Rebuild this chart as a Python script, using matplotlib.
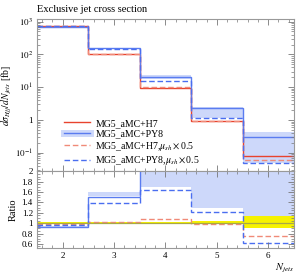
import numpy as np
import matplotlib
matplotlib.use("Agg")
import matplotlib.pyplot as plt
from matplotlib.lines import Line2D
from matplotlib.ticker import FixedLocator, MultipleLocator, LogLocator, FuncFormatter, NullFormatter

plt.rcParams['font.family'] = ['Liberation Serif', 'DejaVu Serif']
plt.rcParams['mathtext.fontset'] = 'stix'

# bin edges in number of jets
edges = [1.5, 2.5, 3.5, 4.5, 5.5, 6.5]

# cross sections [fb]
h7 = np.array([755, 103, 9.7, 0.95, 0.080])
py8 = np.array([705, 155, 21.0, 2.30, 0.30])
h7_half = np.array([750, 105, 10.5, 0.93, 0.060])
py8_half = np.array([735, 143, 15.9, 1.16, 0.049])

# PY8 uncertainty band (main panel)
py8_lo = np.array([690, 150, 18.0, 1.18, 0.050])
py8_hi = np.array([730, 162, 24.0, 2.55, 0.42])

# bands in ratio panel
py8_rlo = np.array([0.91, 1.53, 1.70, 1.29, 1.13])
py8_rhi = np.array([0.95, 1.60, 2.60, 3.00, 5.00])
h7_rlo = np.array([0.985, 0.985, 0.985, 0.98, 0.90])
h7_rhi = np.array([1.015, 1.015, 1.02, 1.04, 1.13])

red = '#e8432e'
red_d = '#f08a78'
blue = '#5a7cf0'
blue_d = '#4a6ef0'
band_blue = '#cdd8fa'
frame = '#999999'

fig = plt.figure(figsize=(3.04, 2.74), dpi=100)
ax = fig.add_axes([0.1217, 0.376, 0.845, 0.555])
rax = fig.add_axes([0.1217, 0.095, 0.845, 0.281], sharex=ax)

# main panel
ax.stairs(py8_hi, edges, baseline=py8_lo, fill=True, color=band_blue, lw=0)
ax.stairs(h7, edges, color=red, lw=1.0, baseline=None)
ax.stairs(py8, edges, color=blue, lw=1.0, baseline=None)
ax.stairs(h7_half, edges, color=red_d, lw=1.0, ls=(0, (4, 2)), baseline=None)
ax.stairs(py8_half, edges, color=blue_d, lw=1.0, ls=(0, (4, 2)), baseline=None)

ax.set_yscale('log')
ax.set_ylim(0.028, 1210)
ax.set_xlim(1.5, 6.5)


def logfmt(v, pos):
    e = int(round(np.log10(v)))
    if e == 0:
        return '1'
    return r'$10^{%d}$' % e


ax.yaxis.set_major_locator(LogLocator(base=10, numticks=10))
ax.yaxis.set_major_formatter(FuncFormatter(logfmt))
ax.yaxis.set_minor_locator(LogLocator(base=10, subs=np.arange(2, 10), numticks=10))
ax.yaxis.set_minor_formatter(NullFormatter())
ax.tick_params(labelbottom=False)
ax.set_ylabel(r'$d\sigma_{Hjj}/dN_{jets}$ [fb]', fontsize=7)
ax.yaxis.set_label_coords(-0.088, 0.5)
ax.set_title('Exclusive jet cross section', fontsize=7.5, loc='left', pad=5)

handles = [
    Line2D([], [], color=red, lw=1.0),
    (Line2D([], [], color=band_blue, lw=5), Line2D([], [], color=blue, lw=1.0)),
    Line2D([], [], color=red_d, lw=1.0, ls=(0, (4, 2))),
    Line2D([], [], color=blue_d, lw=1.0, ls=(0, (4, 2))),
]
labels = ['MG5_aMC+H7', 'MG5_aMC+PY8',
          r'MG5_aMC+H7,$\mu_{sh}\times$0.5', r'MG5_aMC+PY8,$\mu_{sh}\times$0.5']
ax.legend(handles, labels, loc='lower left', bbox_to_anchor=(0.08, -0.02),
          frameon=False, fontsize=7, handlelength=2.6, handletextpad=0.6,
          labelspacing=0.15, borderpad=0.2)

# ratio panel
rax.stairs(py8_rhi, edges, baseline=py8_rlo, fill=True, color=band_blue, lw=0)
rax.stairs(h7_rhi, edges, baseline=h7_rlo, fill=True, color='#f6f200', lw=0)
rax.axhline(1.0, color='#a8a848', lw=0.9)
rax.stairs(py8 / h7, edges, color=blue, lw=1.0, baseline=None)
rax.stairs(h7_half / h7, edges, color=red_d, lw=1.0, ls=(0, (4, 2)), baseline=None)
rax.stairs(py8_half / h7, edges, color=blue_d, lw=1.0, ls=(0, (4, 2)), baseline=None)

rax.set_ylim(0.52, 2.01)
rax.yaxis.set_major_locator(FixedLocator([0.6, 0.8, 1.0, 1.2, 1.4, 1.6, 1.8, 2.0]))
rax.yaxis.set_major_formatter(FuncFormatter(lambda v, p: ('%.1f' % v).rstrip('0').rstrip('.')))
rax.yaxis.set_minor_locator(MultipleLocator(0.05))
rax.xaxis.set_major_locator(FixedLocator([2, 3, 4, 5, 6]))
rax.xaxis.set_minor_locator(MultipleLocator(0.2))
rax.set_ylabel('Ratio', fontsize=7.5)
rax.yaxis.set_label_coords(-0.075, 0.5)
rax.set_xlabel(r'$N_{jets}$', fontsize=7.5, loc='right', labelpad=1)

for a in (ax, rax):
    for s in a.spines.values():
        s.set_color(frame)
        s.set_linewidth(0.8)
    a.tick_params(which='both', direction='in', top=True, right=True,
                  color='#777777', labelsize=6.5, pad=3)
    a.tick_params(which='major', length=4, width=0.6)
    a.tick_params(which='minor', length=2, width=0.5)

fig.savefig('out.png', dpi=100)
